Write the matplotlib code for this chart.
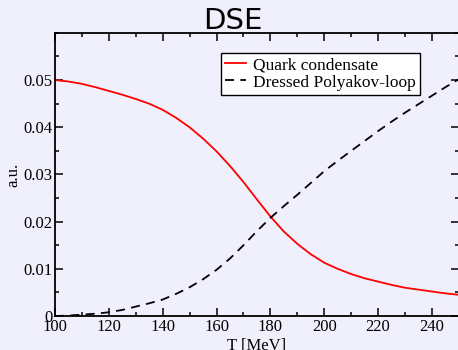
import numpy as np
import matplotlib.pyplot as plt
from matplotlib.ticker import MultipleLocator

# values (every 5 MeV)
T = [100, 105, 110, 115, 120, 125, 130, 135, 140, 145, 150, 155, 160, 165, 170, 175,
     180, 185, 190, 195, 200, 205, 210, 215, 220, 225, 230, 235, 240, 245, 250]
condensate = [0.0500, 0.0497, 0.0492, 0.0485, 0.0477, 0.0469, 0.0460, 0.0450, 0.0437,
              0.0420, 0.0400, 0.0376, 0.0349, 0.0318, 0.0284, 0.0247, 0.0211, 0.0179,
              0.0153, 0.0131, 0.0113, 0.0100, 0.0089, 0.0080, 0.0073, 0.0066, 0.0060,
              0.0056, 0.0052, 0.0048, 0.0045]
polyakov = [0.0000, 0.0001, 0.0003, 0.0005, 0.0008, 0.0013, 0.0020, 0.0027, 0.0035,
            0.0047, 0.0061, 0.0078, 0.0098, 0.0122, 0.0150, 0.0180, 0.0208, 0.0233,
            0.0257, 0.0282, 0.0307, 0.0329, 0.0350, 0.0371, 0.0392, 0.0412, 0.0431,
            0.0449, 0.0467, 0.0485, 0.0502]
yticks = [0, 0.01, 0.02, 0.03, 0.04, 0.05]
ytick_labels = ["0", "0.01", "0.02", "0.03", "0.04", "0.05"]

bg = "#f0f0fc"
plt.rcParams['font.family'] = ['Liberation Serif', 'DejaVu Serif']

fig = plt.figure(figsize=(4.58, 3.5), dpi=100, facecolor=bg)
ax = fig.add_axes([0.120, 0.097, 0.882, 0.809], facecolor=bg)

ax.plot(T, condensate, color="red", lw=1.3, label="Quark condensate")
ax.plot(T, polyakov, color="black", lw=1.3, ls=(0, (5, 3.5)), label="Dressed Polyakov-loop")

ax.set_xlim(100, 250)
ax.set_ylim(0, 0.06)
ax.xaxis.set_major_locator(MultipleLocator(20))
ax.xaxis.set_minor_locator(MultipleLocator(10))
ax.yaxis.set_minor_locator(MultipleLocator(0.005))
ax.set_yticks(yticks)
ax.set_yticklabels(ytick_labels)
ax.tick_params(which="both", direction="in", top=True, right=True, labelsize=12, pad=2)
ax.tick_params(which="major", length=6, width=1.1)
ax.tick_params(which="minor", length=3, width=1.1)
for s in ax.spines.values():
    s.set_linewidth(1.3)

ax.set_xlabel("T [MeV]", fontsize=12, labelpad=2)
ax.set_ylabel("a.u.", fontsize=12, labelpad=1)
fig.text(233 / 458, 1 - 29 / 350, "DSE", fontsize=21, family="DejaVu Sans",
         ha="center", va="baseline")

leg = ax.legend(loc="upper left", bbox_to_anchor=(0.41, 0.929), fontsize=12.5,
                frameon=True, fancybox=False, handlelength=1.2, handletextpad=0.4,
                borderpad=0.25, labelspacing=0.05, borderaxespad=0)
leg.get_frame().set_edgecolor("black")
leg.get_frame().set_linewidth(1.0)
leg.get_frame().set_facecolor("white")
leg.get_frame().set_alpha(1)

fig.savefig("out.png", dpi=100, facecolor=bg)
